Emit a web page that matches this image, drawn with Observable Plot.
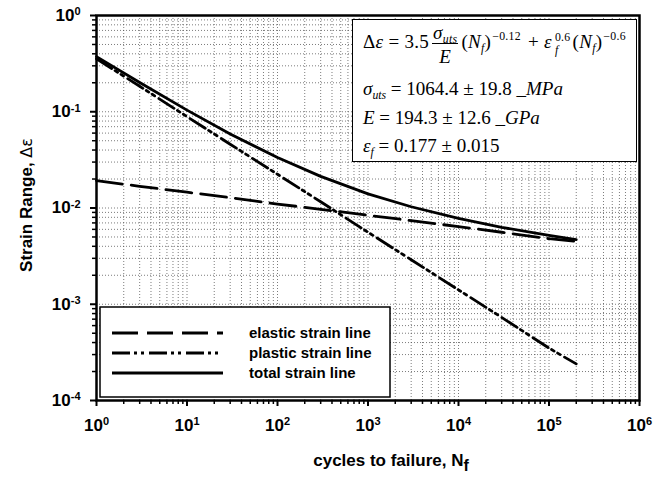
<!DOCTYPE html>
<html><head><meta charset="utf-8">
<script src="https://cdn.jsdelivr.net/npm/d3@7"></script>
<script src="https://cdn.jsdelivr.net/npm/@observablehq/plot@0.6"></script>
<style>
body{margin:0;background:#fff;}
#wrap{position:relative;width:665px;height:483px;overflow:hidden;}
#eq{position:absolute;left:352px;top:19px;width:285px;height:143px;box-sizing:border-box;border:1.5px solid #000;background:#fff;
 font-family:"Liberation Serif","Times New Roman",serif;font-size:19px;color:#000;}
#eq .ln{position:absolute;left:10px;white-space:nowrap;line-height:20px;}
#eq .l1{letter-spacing:0.3px;}
#eq sub{font-size:0.62em;vertical-align:-0.3em;line-height:0;}
#eq sup{font-size:0.62em;vertical-align:0.65em;line-height:0;margin-left:1px;margin-right:2px;}
#eq .frac{display:inline-block;vertical-align:-15px;text-align:center;margin:0 3px 0 3px;}
#eq .frac span{display:block;}
#eq .frac .num{border-bottom:1px solid #000;line-height:20px;padding:0 1px;}
#eq .frac .den{line-height:26px;}
#eq .ss{display:inline-block;vertical-align:-6px;line-height:13px;font-size:0.62em;margin:0 2px 0 3px;}
#eq .ss span{display:block;}
</style>
</head><body>
<div id="wrap"></div>
<script>
// ---- data ----
const cycles  = [1, 3, 10, 30, 100, 300, 1000, 3000, 10000, 30000, 100000, 200000];
const elastic = [0.0192, 0.0168, 0.0146, 0.0128, 0.0110, 0.0097, 0.0084, 0.0074, 0.0064, 0.0056, 0.0048, 0.0045];
const plastic = [0.355, 0.184, 0.089, 0.046, 0.0224, 0.0116, 0.0056, 0.0029, 0.00141, 0.00073, 0.00035, 0.00024];
const total   = [0.374, 0.201, 0.104, 0.0588, 0.0334, 0.0213, 0.0140, 0.0103, 0.0078, 0.0063, 0.0052, 0.0047];
const xMajor = [1, 10, 100, 1e3, 1e4, 1e5, 1e6];
const xExp   = ["0", "1", "2", "3", "4", "5", "6"];
const yMajor = [1e-4, 1e-3, 1e-2, 1e-1, 1];
const yExp   = ["-4", "-3", "-2", "-1", "0"];
const seriesNames = ["elastic strain line", "plastic strain line", "total strain line"];

const minorOf = majors => majors.slice(0, -1).flatMap(m => [2,3,4,5,6,7,8,9].map(k => k * m));
const xMinor = minorOf(xMajor);
const yMinor = minorOf(yMajor);
const rows = (vals) => cycles.map((n, i) => ({n, s: vals[i]}));

const elasticDash = "26,9";
const plasticDash = "18,4,3,4,3,5";
const lineW = 2.8;
const sans = "'Liberation Sans', Arial, sans-serif";

const supFmt = (majors, exps) => d => "10^" + exps[majors.indexOf(d)];

const plot = Plot.plot({
  width: 665, height: 483,
  marginLeft: 96, marginRight: 26, marginTop: 15, marginBottom: 83,
  style: {fontFamily: sans, background: "#fff", color: "#000"},
  x: {type: "log", domain: [1, 1e6]},
  y: {type: "log", domain: [1e-4, 1]},
  marks: [
    Plot.gridX([...xMajor, ...xMinor], {stroke: "#444", strokeOpacity: 0.7, strokeDasharray: "1,2"}),
    Plot.gridY([...yMajor, ...yMinor], {stroke: "#444", strokeOpacity: 0.7, strokeDasharray: "1,2"}),
    Plot.line(rows(elastic), {x: "n", y: "s", stroke: "#000", strokeWidth: lineW, strokeDasharray: elasticDash}),
    Plot.line(rows(plastic), {x: "n", y: "s", stroke: "#000", strokeWidth: lineW, strokeDasharray: plasticDash}),
    Plot.line(rows(total), {x: "n", y: "s", stroke: "#000", strokeWidth: lineW}),
    Plot.frame({stroke: "#000", strokeWidth: 2.5}),
    Plot.axisX(xMinor, {tickSize: 4, tickFormat: () => "", strokeWidth: 1.5, label: null}),
    Plot.axisY(yMinor, {tickSize: 4, tickFormat: () => "", strokeWidth: 1.5, label: null}),
    Plot.axisX(xMajor, {tickSize: 6, tickPadding: 12, tickFormat: supFmt(xMajor, xExp), strokeWidth: 2,
      fontSize: 17, fontWeight: "bold", label: null}),
    Plot.axisY(yMajor, {tickSize: 6, tickPadding: 10, tickFormat: supFmt(yMajor, yExp), strokeWidth: 2,
      fontSize: 17, fontWeight: "bold", label: null})
  ]
});

// superscript exponents in tick labels
d3.select(plot).selectAll("text").each(function() {
  const t = d3.select(this);
  const s = t.text();
  if (!s.startsWith("10^")) return;
  const e = s.slice(3);
  t.text(null);
  t.append("tspan").text("10");
  t.append("tspan").attr("dy", "-0.5em").attr("font-size", "11px").text(e);
});

const svg = d3.select(plot);
// axis titles
const xt = svg.append("text").attr("x", 391).attr("y", 466).attr("text-anchor", "middle")
  .attr("font-size", 17).attr("font-weight", "bold").attr("font-family", sans);
xt.append("tspan").text("cycles to failure, N");
xt.append("tspan").attr("dy", "0.3em").attr("font-size", 16).text("f");
const yt = svg.append("text").attr("transform", "translate(32,205) rotate(-90)").attr("text-anchor", "middle")
  .attr("font-size", 17).attr("font-weight", "bold").attr("font-family", sans);
yt.append("tspan").text("Strain Range, ");
yt.append("tspan").attr("font-weight", "normal").attr("font-family", "'DejaVu Sans', sans-serif").attr("font-size", 16).text("Δε");

// legend
const lg = svg.append("g");
lg.append("rect").attr("x", 100).attr("y", 307).attr("width", 290).attr("height", 90)
  .attr("fill", "#fff").attr("stroke", "#000").attr("stroke-width", 1.5);
const dashes = [elasticDash, plasticDash, null];
seriesNames.forEach((name, i) => {
  const yy = 333 + i * 20;
  const l = lg.append("line").attr("x1", 112).attr("x2", 223).attr("y1", yy).attr("y2", yy)
    .attr("stroke", "#000").attr("stroke-width", lineW);
  if (dashes[i]) l.attr("stroke-dasharray", dashes[i]);
  lg.append("text").attr("x", 249).attr("y", yy + 5).attr("text-anchor", "start").attr("font-size", 15).attr("font-weight", "bold")
    .attr("font-family", sans).text(name);
});

const wrap = document.getElementById("wrap");
wrap.appendChild(plot);

// equation box
const eq = document.createElement("div");
eq.id = "eq";
eq.innerHTML = `
<div class="ln l1" style="top:3px">Δ<i>ε</i> = 3.5<span class="frac"><span class="num"><i>σ</i><sub><i>uts</i></sub></span><span class="den"><i>E</i></span></span>(<i>N</i><sub><i>f</i></sub>)<sup>−0.12</sup> + <i>ε</i><span class="ss"><span>0.6</span><span><i>f</i></span></span>(<i>N</i><sub><i>f</i></sub>)<sup>−0.6</sup></div>
<div class="ln" style="top:59px"><i>σ</i><sub><i>uts</i></sub> = 1064.4 ± 19.8 _<i>MPa</i></div>
<div class="ln" style="top:88px"><i>E</i> = 194.3 ± 12.6 _<i>GPa</i></div>
<div class="ln" style="top:116px"><i>ε</i><sub><i>f</i></sub> = 0.177 ± 0.015</div>`;
wrap.appendChild(eq);
</script>
</body></html>
